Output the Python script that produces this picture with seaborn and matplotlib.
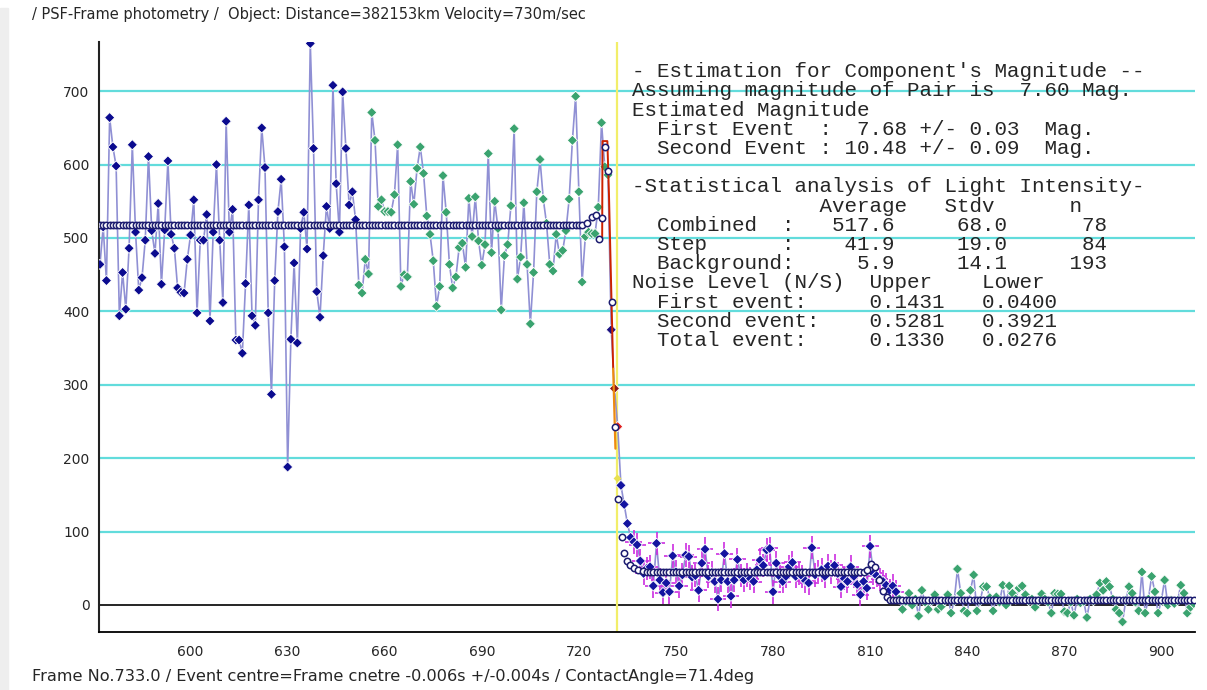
import numpy as np
import pandas as pd
import matplotlib
matplotlib.use('Agg')
import matplotlib.pyplot as plt
import seaborn as sns

# 광도곡선 데이터
first_frame = 572
blue_left = [464, 515, 442, 664, 624, 598, 394, 453, 403, 486,
             627, 508, 429, 446, 497, 611, 510, 479, 547, 437,
             511, 605, 505, 486, 432, 426, 425, 471, 504, 552,
             398, 497, 497, 532, 387, 508, 600, 497, 412, 659,
             508, 539, 361, 361, 343, 438, 545, 394, 381, 552,
             650, 596, 398, 287, 442, 536, 580, 488, 188, 362,
             466, 357, 513, 535, 485, 765, 622, 427, 392, 476,
             543, 513, 708, 574, 508, 699, 622, 545, 563, 525]
green_left = [436, 425, 471, 451, 671, 633, 543, 552, 536, 536,
              535, 559, 627, 434, 450, 447, 577, 546, 595, 624,
              588, 530, 505, 469, 407, 434, 585, 535, 464, 432,
              447, 487, 493, 460, 554, 502, 556, 496, 463, 491,
              615, 480, 550, 513, 402, 476, 491, 544, 649, 444,
              474, 548, 464, 383, 453, 563, 607, 553, 520, 464,
              455, 505, 478, 483, 510, 553, 633, 693, 563, 440,
              502, 508, 506, 506, 542, 657, 597, 586]
drop_vals = [375, 295, 243]
drop_colors = ['#1a1080', '#8b1a1a', '#e02020']
step_vals = [163, 137, 111, 92, 86, 82, 60, 43, 50, 52,
             26, 84, 34, 17, 30, 18, 67, 45, 26, 41,
             68, 66, 38, 40, 20, 57, 76, 39, 44, 32,
             8, 34, 70, 32, 12, 34, 62, 40, 34, 41,
             36, 32, 48, 61, 54, 75, 77, 18, 57, 39,
             32, 39, 52, 58, 39, 43, 39, 33, 30, 78,
             41, 45, 48, 39, 53, 45, 54, 43, 25, 36,
             32, 52, 39, 28, 14, 32, 23, 80, 43, 40,
             35, 32, 27, 20, 26, 18]
bg_vals = [8, -6, 5, 16, 0, 8, -15, 20, 4, -6,
           6, 14, -6, -2, 6, 14, -11, 6, 49, 16,
           -8, -11, 20, 41, -8, 6, 25, 25, 10, -8,
           11, 4, 27, 0, 26, 16, 8, 23, 26, 14,
           6, 8, -3, 6, 15, 8, 4, -11, 16, 15,
           15, -9, -11, 4, -14, 8, 3, 5, -17, 8,
           6, 14, 30, 20, 32, 25, 8, -6, -11, -23,
           6, 25, 16, 4, -8, 45, -11, 8, 39, 18,
           -11, 6, 34, 0, 6, 2, 6, 27, 16, -11,
           -3, 2]
step_xerr = 2.6
step_yerr = 16
errbar_from = 737

# 모델 (단계 함수 + 회절 무늬)
level_combined = 517.6
level_step = 45
level_bg = 7
edge1_x = [722.6, 724.1, 725.2, 726.2, 727.0, 728.0, 729.1, 730.1, 731.1,
           732.1, 733.2, 734.0, 734.8, 735.9, 737.1, 738.3, 739.7]
edge1_y = [520, 529, 531, 499, 527, 624, 591, 413, 243,
           144, 93, 71, 60, 54, 50, 48, 46]
edge2_x = [809.0, 810.3, 811.4, 812.7, 814.0, 815.1, 816.3]
edge2_y = [47, 56, 52, 34, 19.5, 11.4, 6.8]
fit_red_x = [727.2, 727.3, 728.8, 729.3, 730.0, 730.6]
fit_red_y = [499, 632, 632, 560, 430, 322]
fit_orange_x = [730.6, 731.3]
fit_orange_y = [322, 213]
event_frame = 731.8
yellow_pt = (731.7, 173)

title_txt = "/ PSF-Frame photometry /  Object: Distance=382153km Velocity=730m/sec"
footer_txt = "Frame No.733.0 / Event centre=Frame cnetre -0.006s +/-0.004s / ContactAngle=71.4deg"
box_lines = [
    "- Estimation for Component's Magnitude --",
    "Assuming magnitude of Pair is  7.60 Mag.",
    "Estimated Magnitude",
    "  First Event  :  7.68 +/- 0.03  Mag.",
    "  Second Event : 10.48 +/- 0.09  Mag.",
    "",
    "-Statistical analysis of Light Intensity-",
    "               Average   Stdv      n",
    "  Combined  :   517.6     68.0      78",
    "  Step      :    41.9     19.0      84",
    "  Background:     5.9     14.1     193",
    "Noise Level (N/S)  Upper    Lower",
    "  First event:     0.1431   0.0400",
    "  Second event:    0.5281   0.3921",
    "  Total event:     0.1330   0.0276",
]

# ---- 데이터프레임
vals = blue_left + green_left + drop_vals + step_vals + bg_vals
parts = (['blue'] * len(blue_left) + ['green'] * len(green_left) + ['drop0', 'drop1', 'drop2']
         + ['step'] * len(step_vals) + ['bg'] * len(bg_vals))
df = pd.DataFrame({'frame': np.arange(len(vals)) + first_frame, 'intensity': vals, 'part': parts})
step_df = df[df['part'] == 'step']

n_hi = int(edge1_x[0]) - first_frame
last_frame = int(df['frame'].max())
model_x = (list(range(first_frame, first_frame + n_hi)) + edge1_x
           + list(range(741, 809)) + edge2_x + list(range(817, last_frame + 1)))
model_y = ([level_combined] * n_hi + edge1_y + [level_step] * (809 - 741)
           + edge2_y + [level_bg] * (last_frame + 1 - 817))

sns.set_style('white')
plt.rcParams['font.family'] = ['DejaVu Sans']

fig = plt.figure(figsize=(12.07, 6.90), dpi=100)
ax = fig.add_axes([99.3 / 1207, 57.7 / 690, (1195 - 99.3) / 1207, (648 - 57.7) / 690])

for lv in range(100, 701, 100):
    ax.axhline(lv, color='#62dcdc', lw=1.6, zorder=1)
ax.axhline(0, color='black', lw=1.2, zorder=1)
ax.axvline(event_frame, color='#f2ee6a', lw=1.6, zorder=1)

sns.lineplot(data=df, x='frame', y='intensity', sort=False, estimator=None,
             color='#9090d4', lw=1.2, ax=ax, zorder=2)

e = step_df[step_df['frame'] >= errbar_from]
ax.errorbar(e['frame'], e['intensity'], xerr=step_xerr, yerr=step_yerr, fmt='none',
            ecolor='#cc2ee0', elinewidth=1.2, zorder=3)

pal = {'blue': '#0b0b8f', 'green': '#3aa36f', 'step': '#1414a0', 'bg': '#3aa36f',
       'drop0': drop_colors[0], 'drop1': drop_colors[1], 'drop2': drop_colors[2]}
sns.scatterplot(data=df, x='frame', y='intensity', hue='part', palette=pal, marker='D',
                s=27, linewidth=0.6, legend=False, ax=ax, zorder=4)
ax.plot(fit_red_x, fit_red_y, color='#cc2200', lw=1.4, zorder=5)
ax.plot(fit_orange_x, fit_orange_y, color='#ee8a10', lw=1.6, zorder=5)
sns.scatterplot(x=model_x, y=model_y, marker='o', s=21, color='white',
                edgecolor='#1c1c70', linewidth=1.1, ax=ax, zorder=6)
sns.scatterplot(x=[yellow_pt[0]], y=[yellow_pt[1]], marker='D', s=16, color='#e8e050',
                linewidth=0, ax=ax, zorder=6)

ax.set_xlim(571.8, 910.4)
ax.set_ylim(-37.2, 767)
ax.set_xticks(range(600, 901, 30))
ax.set_xticks(range(580, 911, 10), minor=True)
ax.set_yticks(range(0, 701, 100))
ax.tick_params(axis='x', which='both', direction='out', length=6, width=1, color='black',
               labelsize=10, pad=3)
ax.tick_params(axis='y', length=0, pad=7, labelsize=10)
ax.set_xlabel('')
ax.set_ylabel('')
for s in ['top', 'right']:
    ax.spines[s].set_visible(False)
ax.spines['left'].set_color('#222222')
ax.spines['left'].set_linewidth(1.5)
ax.spines['bottom'].set_color('black')
ax.spines['bottom'].set_linewidth(1.3)

for i, line in enumerate(box_lines):
    fig.text(631.5 / 1207, 1 - (71.7 + 19.2 * i) / 690, line, family='Liberation Mono',
             fontsize=15.0, va='center', ha='left', zorder=10)

fig.text(32 / 1207, 1 - 15 / 690, title_txt, fontsize=10.5, va='center', ha='left')
fig.text(32 / 1207, 1 - 677 / 690, footer_txt, fontsize=11.6, va='center', ha='left')

fig.patches.append(plt.Rectangle((0, 0), 8 / 1207, 1 - 8 / 690, transform=fig.transFigure,
                                 color='#eeeeee', zorder=0))

fig.savefig('out.png', dpi=100)
